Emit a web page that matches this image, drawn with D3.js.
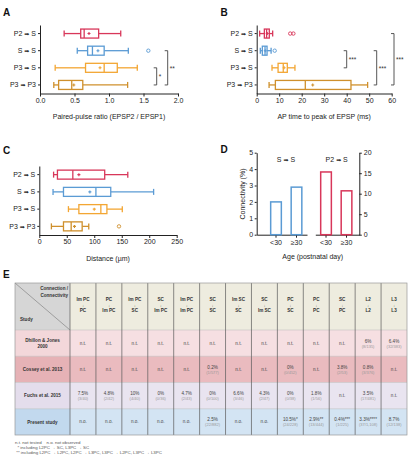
<!DOCTYPE html>
<html>
<head>
<meta charset="utf-8">
<script src="https://cdn.jsdelivr.net/npm/d3@7"></script>
<style>
  body { margin: 0; background: #fff; }
  svg { display: block; font-family: "Liberation Sans", Arial, sans-serif; }
</style>
</head>
<body>
<div id="fig"></div>
<script>
// connection types used by panels A-C
const pairs = ["P2→S", "S→S", "P3→S", "P3→P3"];
const pairColors = ["#d8375a", "#5b9bd4", "#f3a633", "#cf902c"];

// A: paired-pulse ratio, [low whisker, q1, median, q3, high whisker]
const pprBox = [[0.35, 0.59, 0.64, 0.85, 1.17], [0.54, 0.69, 0.76, 0.93, 1.28], [0.22, 0.66, 0.93, 1.12, 1.41], [0.20, 0.27, 0.46, 0.62, 1.27]];
const pprMean = [0.71, 0.84, 0.87, 0.49];
const pprOut = [[], [1.57], [], []];
const pprTicks = [0, 0.5, 1.0, 1.5, 2.0];
const pprSig = [["P3→S", "P3→P3", "*"], ["S→S", "P3→P3", "**"]];

// B: AP time to peak of EPSP (ms)
const ttpBox = [[1.3, 3.4, 4.4, 5.6, 7.1], [1.6, 2.5, 3.7, 4.6, 6.4], [6.8, 9.5, 11.8, 13.6, 17.0], [5.5, 8.3, 21.6, 41.9, 49.3]];
const ttpMean = [4.7, 3.8, 12.2, 24.9];
const ttpOut = [[14.9, 16.3], [8.0], [], []];
const ttpTicks = [0, 10, 20, 30, 40, 50, 60];
const ttpSig = [["S→S", "P3→S", "***"], ["S→S", "P3→P3", "***"], ["P2→S", "P3→P3", "***"]];

// C: distance (µm)
const distBox = [[26, 33, 61, 119, 161], [25, 44, 103, 130, 208], [53, 72, 112, 123, 151], [22, 44, 58, 78, 90]];
const distMean = [72, 92, 100, 64];
const distOut = [[], [], [], [145]];
const distTicks = [0, 50, 100, 150, 200, 250];

// D: connectivity by age
const ages = ["<30", "≥30"];
const ssConn = [2.0, 2.9];   // left axis, %
const p2sConn = [15.3, 10.7]; // right axis, %

// E: literature table
const colFrom = ["Im PC", "PC", "Im PC", "SC", "Im PC", "SC", "Im SC", "SC", "PC", "PC", "SC", "L2", "L3"];
const colTo = ["PC", "Im PC", "SC", "Im PC", "Im PC", "SC", "SC", "Im SC", "SC", "PC", "PC", "L2", "L3"];
const studies = ["Dhillon & Jones 2000", "Cossey et al. 2013", "Fuchs et al. 2015", "Present study"];
const studyLines = [["Dhillon & Jones", "2000"], ["Cossey et al. 2013"], ["Fuchs et al. 2015"], ["Present study"]];
const dhillonVal = ["n.t.", "n.t.", "n.t.", "n.t.", "n.t.", "n.t.", "n.t.", "n.t.", "n.t.", "n.t.", "n.t.", "6%", "6.4%"];
const dhillonN = ["", "", "", "", "", "", "", "", "", "", "", "(8/135)", "(32/383)"];
const cosseyVal = ["n.t.", "n.t.", "n.t.", "n.t.", "n.t.", "0.2%", "n.t.", "n.t.", "0%", "n.t.", "3.8%", "0.8%", "n.t."];
const cosseyN = ["", "", "", "", "", "(1/577)", "", "", "(0/452)", "", "(2/53)", "(3/376)", ""];
const fuchsVal = ["7.5%", "4.8%", "10%", "0%", "4.7%", "0%", "6.6%", "4.3%", "0%", "1.8%", "n.t.", "3.5%", "n.t."];
const fuchsN = ["(3/40)", "(2/42)", "(4/40)", "(0/36)", "(2/43)", "(0/100)", "(3/46)", "(2/47)", "(0/38)", "(1/56)", "", "(17/481)", ""];
const presentVal = ["n.o.", "n.o.", "n.o.", "n.o.", "n.o.", "2.5%", "n.o.", "n.o.", "10.5%*", "2.9%**", "0.4%***", "3.3%****", "8.7%"];
const presentN = ["", "", "", "", "", "(22/882)", "", "", "(24/228)", "(13/444)", "(1/225)", "(37/1,108)", "(12/138)"];
const footnotes = ["n.t. not tested    n.o. not observed",
  "  * including L2PC → SC, L3PC → SC",
  " ** including L2PC → L2PC, L2PC → L3PC, L3PC → L2PC, L3PC → L3PC"];

const svg = d3.select("#fig")
  .append("svg")
  .attr("width", 409)
  .attr("height", 458);

// "P2→S" -> "P2 ➡ S" with a heavy arrow
function arrowLabel(sel) {
  sel.each(function () {
    const t = d3.select(this);
    const parts = t.text().split("→");
    t.text(null);
    t.append("tspan").text(parts[0] + " ");
    t.append("tspan").attr("font-family", "DejaVu Sans").attr("font-size", 6).text("➡");
    t.append("tspan").text(" " + parts[1]);
  });
}

// style axis text + lines
function styleAxis(g, size) {
  g.attr("font-family", null).attr("font-size", size);
  g.selectAll(".domain, .tick line").attr("stroke", "#222");
  g.selectAll(".tick text").attr("fill", "#222");
}

// horizontal box plot panel
function boxPanel(o) {
  const x = d3.scaleLinear().domain(o.domain).range(o.xr);
  const y = d3.scaleBand().domain(pairs).range(o.yr);
  const yc = p => y(p) + y.bandwidth() / 2;
  const g = svg.append("g");

  g.append("g")
    .attr("transform", `translate(0,${o.yr[1]})`)
    .call(d3.axisBottom(x).tickValues(o.ticks).tickFormat(o.fmt)
      .tickSize(3).tickPadding(1.5).tickSizeOuter(0))
    .call(styleAxis, 7);

  g.append("g")
    .attr("transform", `translate(${o.xr[0]},0)`)
    .call(d3.axisLeft(y).tickSize(2).tickPadding(2).tickSizeOuter(0))
    .call(styleAxis, 7)
    .selectAll(".tick text")
    .call(arrowLabel);

  g.append("text")
    .attr("x", (o.xr[0] + o.xr[1]) / 2)
    .attr("y", o.yr[1] + 25.5)
    .attr("text-anchor", "middle")
    .attr("font-size", 7)
    .attr("fill", "#222")
    .text(o.title);

  const boxH = 9, capH = 6;
  pairs.forEach((p, i) => {
    const s = o.box[i];
    const c = pairColors[i];
    const r = g.append("g").attr("transform", `translate(0,${yc(p)})`);
    const line = (x1, x2, y1, y2) => r.append("line")
      .attr("x1", x1).attr("x2", x2).attr("y1", y1).attr("y2", y2)
      .attr("stroke", c).attr("stroke-width", 1.3);

    line(x(s[0]), x(s[1]), 0, 0);
    line(x(s[3]), x(s[4]), 0, 0);
    line(x(s[0]), x(s[0]), -capH / 2, capH / 2);
    line(x(s[4]), x(s[4]), -capH / 2, capH / 2);

    r.append("rect")
      .attr("x", x(s[1]))
      .attr("y", -boxH / 2)
      .attr("width", x(s[3]) - x(s[1]))
      .attr("height", boxH)
      .attr("fill", "#fff")
      .attr("stroke", c)
      .attr("stroke-width", 1.3);

    line(x(s[2]), x(s[2]), -boxH / 2, boxH / 2);

    // mean
    const m = x(o.mean[i]);
    r.append("path")
      .attr("d", `M${m - 1.5},0H${m + 1.5}M${m},-1.5V1.5`)
      .attr("stroke", c)
      .attr("stroke-width", 1.1);

    r.selectAll("circle")
      .data(o.out[i])
      .join("circle")
      .attr("cx", d => x(d))
      .attr("cy", 0)
      .attr("r", 1.7)
      .attr("fill", "none")
      .attr("stroke", c)
      .attr("stroke-width", 0.9);
  });

  // significance brackets
  o.sig.forEach((sg, k) => {
    const bx = o.sigX[k];
    const y1 = yc(sg[0]), y2 = yc(sg[1]);
    g.append("path")
      .attr("d", `M${bx - 3},${y1}H${bx}V${y2}H${bx - 3}`)
      .attr("fill", "none")
      .attr("stroke", "#444")
      .attr("stroke-width", 0.9);
    g.append("text")
      .attr("x", bx + 2)
      .attr("y", (y1 + y2) / 2 + 3)
      .attr("font-size", 6.5)
      .attr("fill", "#333")
      .text(sg[2]);
  });
}

boxPanel({
  domain: [0, 2], xr: [40, 178], yr: [25, 93.5],
  ticks: pprTicks, fmt: d3.format(".1f"),
  box: pprBox, mean: pprMean, out: pprOut,
  sig: pprSig, sigX: [156.7, 167.7],
  title: "Paired-pulse ratio (EPSP2 / EPSP1)"
});

boxPanel({
  domain: [0, 60], xr: [256.7, 391.7], yr: [25, 93.5],
  ticks: ttpTicks, fmt: d3.format("d"),
  box: ttpBox, mean: ttpMean, out: ttpOut,
  sig: ttpSig, sigX: [346.7, 376.7, 394],
  title: "AP time to peak of EPSP (ms)"
});

boxPanel({
  domain: [0, 250], xr: [39.3, 176.7], yr: [166, 235],
  ticks: distTicks, fmt: d3.format("d"),
  box: distBox, mean: distMean, out: distOut,
  sig: [], sigX: [],
  title: "Distance (µm)"
});

// D: bar chart with two y axes
(function () {
  const g = svg.append("g");
  const yL = d3.scaleLinear().domain([0, 5]).range([234.7, 152.7]);
  const yR = d3.scaleLinear().domain([0, 20]).range([234.7, 152.7]);
  const xS = d3.scaleBand().domain(ages).range([256.7, 307])
    .paddingInner(0.48).paddingOuter(0.467).align(0.73);
  const xP = d3.scaleBand().domain(ages).range([315.3, 359.3])
    .paddingInner(0.48).paddingOuter(0.313).align(0.42);

  g.append("g")
    .attr("transform", "translate(256.7,0)")
    .call(d3.axisLeft(yL).ticks(5).tickSize(2).tickPadding(1.5).tickSizeOuter(0))
    .call(styleAxis, 7);

  g.append("g")
    .attr("transform", "translate(359.3,0)")
    .call(d3.axisRight(yR).tickValues([0, 5, 10, 15, 20]).tickSize(2.5).tickPadding(2).tickSizeOuter(0))
    .call(styleAxis, 7);

  [xS, xP].forEach(xs => {
    g.append("g")
      .attr("transform", "translate(0,234.7)")
      .call(d3.axisBottom(xs).tickSize(3).tickPadding(2).tickSizeOuter(0))
      .call(styleAxis, 7);
  });

  g.selectAll(".ssbar")
    .data(ssConn)
    .join("rect")
    .attr("x", (d, i) => xS(ages[i]))
    .attr("width", xS.bandwidth())
    .attr("y", d => yL(d))
    .attr("height", d => yL(0) - yL(d))
    .attr("fill", "#fff")
    .attr("stroke", pairColors[1])
    .attr("stroke-width", 1.5);

  g.selectAll(".p2bar")
    .data(p2sConn)
    .join("rect")
    .attr("x", (d, i) => xP(ages[i]))
    .attr("width", xP.bandwidth())
    .attr("y", d => yR(d))
    .attr("height", d => yR(0) - yR(d))
    .attr("fill", "#fff")
    .attr("stroke", pairColors[0])
    .attr("stroke-width", 1.5);

  g.append("text")
    .attr("x", 286).attr("y", 161.5)
    .attr("text-anchor", "middle").attr("font-size", 7).attr("fill", "#222")
    .text("S→S")
    .call(arrowLabel);
  g.append("text")
    .attr("x", 336.7).attr("y", 161.5)
    .attr("text-anchor", "middle").attr("font-size", 7).attr("fill", "#222")
    .text("P2→S")
    .call(arrowLabel);

  g.append("text")
    .attr("transform", "translate(245,194) rotate(-90)")
    .attr("text-anchor", "middle").attr("font-size", 7).attr("fill", "#222")
    .text("Connectivity (%)");

  g.append("text")
    .attr("x", 312.7).attr("y", 259)
    .attr("text-anchor", "middle").attr("font-size", 7).attr("fill", "#222")
    .text("Age (postnatal day)");
})();

// E: table
(function () {
  const g = svg.append("g");
  const left = 15, right = 407, top = 283, headBottom = 330, bottom = 435;
  const colX = d3.scaleBand().domain(d3.range(colFrom.length)).range([70, right]);
  const rowY = d3.scaleBand().domain(studies).range([headBottom, bottom]);
  const rowFill = ["#f6dfe2", "#eabbbf", "#e9e4f0", "#d3e4f3"];
  const firstFill = ["#f3d7da", "#e6b2b6", "#e4ddec", "#c2d9ee"];
  const vals = [dhillonVal, cosseyVal, fuchsVal, presentVal];
  const ns = [dhillonN, cosseyN, fuchsN, presentN];

  // header
  g.append("rect")
    .attr("x", left).attr("y", top)
    .attr("width", right - left).attr("height", headBottom - top)
    .attr("fill", "#eeecdf");
  g.append("rect")
    .attr("x", left).attr("y", top)
    .attr("width", 70 - left).attr("height", headBottom - top)
    .attr("fill", "#d6d6d6");
  g.append("line")
    .attr("x1", left).attr("y1", top).attr("x2", 70).attr("y2", headBottom)
    .attr("stroke", "#777").attr("stroke-width", 0.6);

  g.append("text").attr("x", 68).attr("y", 290)
    .attr("text-anchor", "end").attr("font-size", 4.6).attr("font-weight", "bold").attr("fill", "#333")
    .text("Connection /");
  g.append("text").attr("x", 68).attr("y", 296.5)
    .attr("text-anchor", "end").attr("font-size", 4.6).attr("font-weight", "bold").attr("fill", "#333")
    .text("Connectivity");
  g.append("text").attr("x", 20).attr("y", 321)
    .attr("font-size", 4.6).attr("font-weight", "bold").attr("fill", "#333")
    .text("Study");

  colFrom.forEach((f, j) => {
    const cx = colX(j) + colX.bandwidth() / 2;
    [f, "↓", colTo[j]].forEach((t, k) => {
      g.append("text")
        .attr("x", cx).attr("y", 301 + k * 5.6)
        .attr("text-anchor", "middle")
        .attr("font-size", k === 1 ? 4 : 4.6)
        .attr("font-weight", "bold")
        .attr("fill", "#333")
        .text(t);
    });
  });

  // body rows
  studies.forEach((s, i) => {
    const ry = rowY(s), rh = rowY.bandwidth(), cy = ry + rh / 2;
    g.append("rect")
      .attr("x", 70).attr("y", ry).attr("width", right - 70).attr("height", rh)
      .attr("fill", rowFill[i]);
    g.append("rect")
      .attr("x", left).attr("y", ry).attr("width", 70 - left).attr("height", rh)
      .attr("fill", firstFill[i]);

    const lines = studyLines[i];
    lines.forEach((t, k) => {
      g.append("text")
        .attr("x", 42.5)
        .attr("y", cy + 1.7 + (k - (lines.length - 1) / 2) * 6.2)
        .attr("text-anchor", "middle")
        .attr("font-size", 4.6)
        .attr("font-weight", "bold")
        .attr("fill", "#333")
        .text(t);
    });

    vals[i].forEach((v, j) => {
      const cx = colX(j) + colX.bandwidth() / 2;
      const hasN = ns[i][j] !== "";
      g.append("text")
        .attr("x", cx).attr("y", hasN ? cy - 0.6 : cy + 1.6)
        .attr("text-anchor", "middle")
        .attr("font-size", 4.6)
        .attr("fill", "#444")
        .text(v);
      if (hasN) {
        g.append("text")
          .attr("x", cx).attr("y", cy + 4.6)
          .attr("text-anchor", "middle")
          .attr("font-size", 4)
          .attr("fill", "#999")
          .text(ns[i][j]);
      }
    });

    g.append("line")
      .attr("x1", left).attr("x2", right).attr("y1", ry).attr("y2", ry)
      .attr("stroke", "#b9b9b9").attr("stroke-width", 0.5);
  });

  // column rules
  colFrom.forEach((f, j) => {
    g.append("line")
      .attr("x1", colX(j)).attr("x2", colX(j)).attr("y1", top).attr("y2", bottom)
      .attr("stroke", "#5a5a5a").attr("stroke-width", 0.7);
  });

  g.append("rect")
    .attr("x", left).attr("y", top)
    .attr("width", right - left).attr("height", bottom - top)
    .attr("fill", "none").attr("stroke", "#999").attr("stroke-width", 0.7);

  footnotes.forEach((t, k) => {
    g.append("text")
      .attr("x", left)
      .attr("y", 444 + k * 4.8)
      .attr("font-size", 4.4)
      .attr("fill", "#555")
      .attr("xml:space", "preserve")
      .style("white-space", "pre")
      .text(t);
  });
})();

// panel letters
const letters = ["A", "B", "C", "D", "E"];
const letterPos = [[3, 16], [220.5, 16], [3, 154], [220.5, 152.5], [3, 278]];
letters.forEach((l, i) => {
  svg.append("text")
    .attr("x", letterPos[i][0])
    .attr("y", letterPos[i][1])
    .attr("font-size", 10)
    .attr("font-weight", "bold")
    .attr("fill", "#111")
    .text(l);
});
</script>
</body>
</html>
